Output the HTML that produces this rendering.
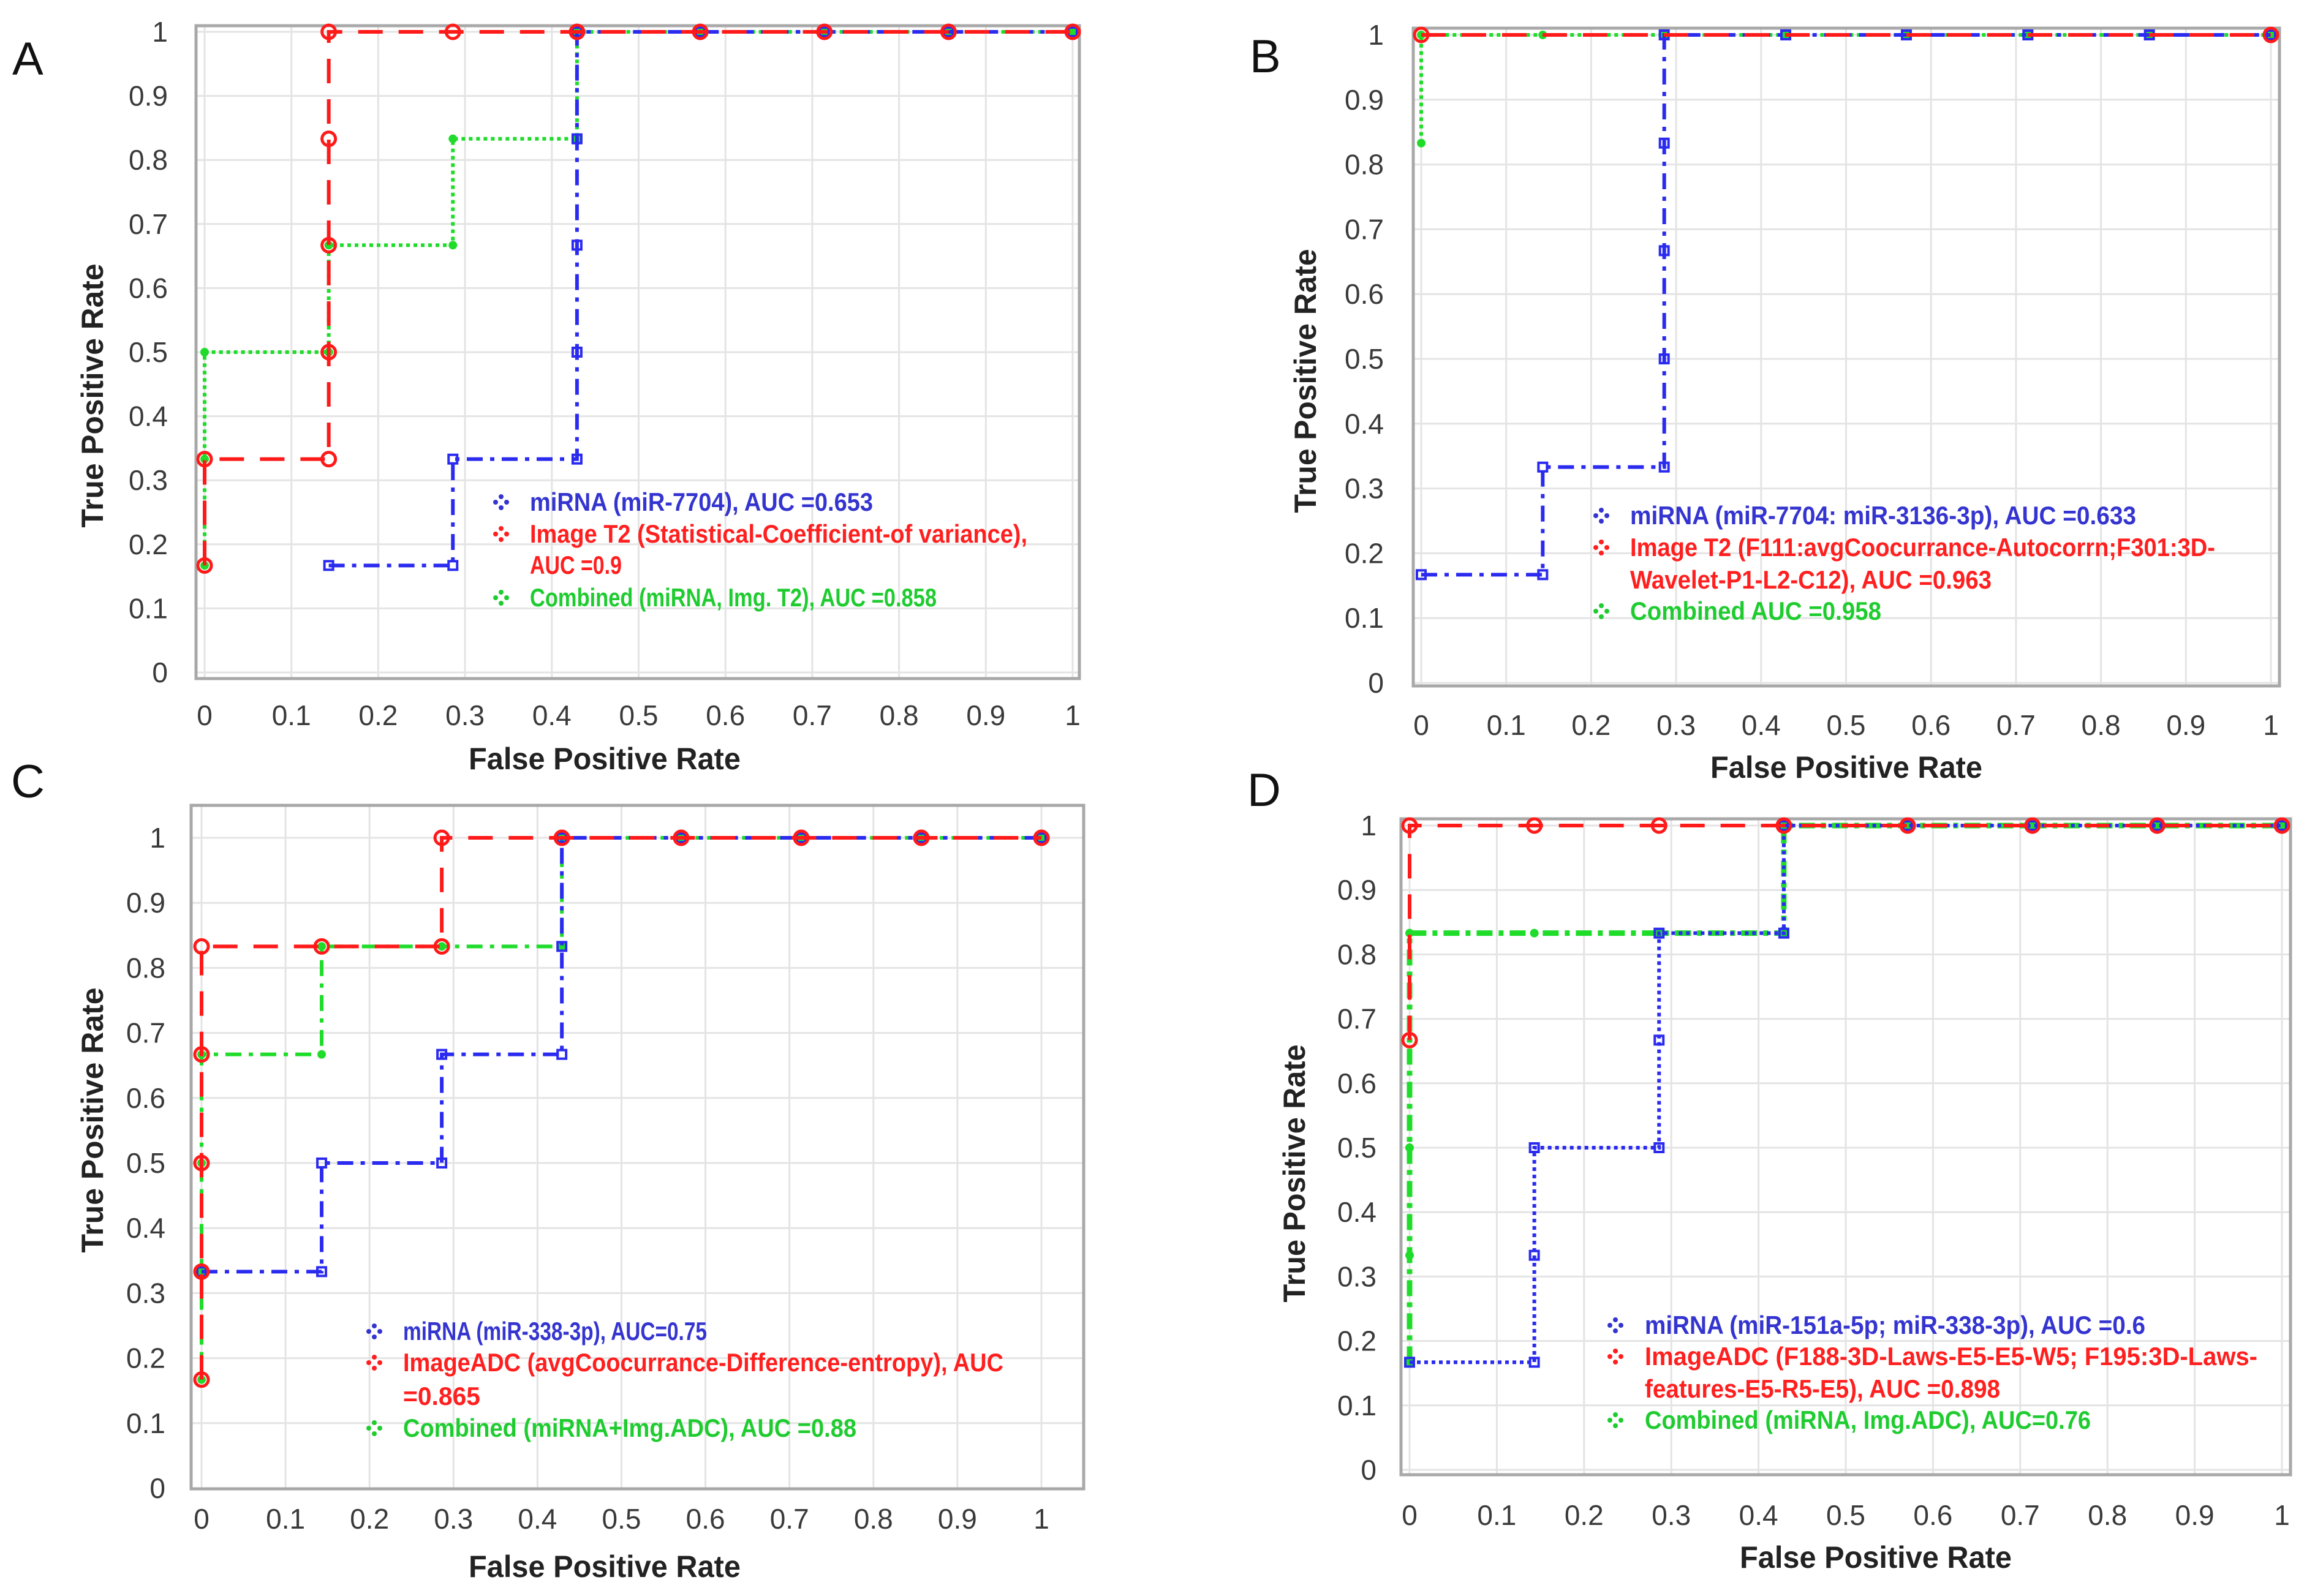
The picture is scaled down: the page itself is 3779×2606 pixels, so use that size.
<!DOCTYPE html>
<html><head><meta charset="utf-8">
<style>
html,body{margin:0;padding:0;background:#fff;}
svg{display:block;}
</style></head>
<body>
<svg id="fig" width="3779" height="2606" viewBox="0 0 3779 2606" xmlns="http://www.w3.org/2000/svg" font-family="Liberation Sans, sans-serif"></svg>
<script>
// ---- data (FPR / TPR step points) ----
const tickLabels = ["0","0.1","0.2","0.3","0.4","0.5","0.6","0.7","0.8","0.9","1"];
const tickValues = [0,0.1,0.2,0.3,0.4,0.5,0.6,0.7,0.8,0.9,1];

const aBlueX = [0.143,0.286,0.286,0.429,0.429,0.429,0.429,0.429,0.571,0.714,0.857,1];
const aBlueY = [0.167,0.167,0.333,0.333,0.5,0.667,0.833,1,1,1,1,1];
const aRedX  = [0,0,0.143,0.143,0.143,0.143,0.143,0.286,0.429,0.571,0.714,0.857,1];
const aRedY  = [0.167,0.333,0.333,0.5,0.667,0.833,1,1,1,1,1,1,1];
const aGreenX= [0,0,0,0.143,0.143,0.286,0.286,0.429,0.429,0.571,0.714,0.857,1];
const aGreenY= [0.167,0.333,0.5,0.5,0.667,0.667,0.833,0.833,1,1,1,1,1];

const bBlueX = [0,0.143,0.143,0.286,0.286,0.286,0.286,0.286,0.429,0.571,0.714,0.857,1];
const bBlueY = [0.167,0.167,0.333,0.333,0.5,0.667,0.833,1,1,1,1,1,1];
const bRedX  = [0,1];
const bRedY  = [1,1];
const bGreenX= [0,0,0.143,0.286,0.429,0.571,0.714,0.857,1];
const bGreenY= [0.833,1,1,1,1,1,1,1,1];

const cBlueX = [0,0.143,0.143,0.286,0.286,0.429,0.429,0.429,0.571,0.714,0.857,1];
const cBlueY = [0.333,0.333,0.5,0.5,0.667,0.667,0.833,1,1,1,1,1];
const cRedX  = [0,0,0,0,0,0.143,0.286,0.286,0.429,0.571,0.714,0.857,1];
const cRedY  = [0.167,0.333,0.5,0.667,0.833,0.833,0.833,1,1,1,1,1,1];
const cGreenX= [0,0,0,0,0.143,0.143,0.286,0.429,0.429,0.571,0.714,0.857,1];
const cGreenY= [0.167,0.333,0.5,0.667,0.667,0.833,0.833,0.833,1,1,1,1,1];

const dBlueX = [0,0.143,0.143,0.143,0.286,0.286,0.286,0.429,0.429,0.571,0.714,0.857,1];
const dBlueY = [0.167,0.167,0.333,0.5,0.5,0.667,0.833,0.833,1,1,1,1,1];
const dRedX  = [0,0,0.143,0.286,0.429,0.571,0.714,0.857,1];
const dRedY  = [0.667,1,1,1,1,1,1,1,1];
const dGreenX= [0,0,0,0,0.143,0.286,0.429,0.429,0.571,0.714,0.857,1];
const dGreenY= [0.167,0.333,0.5,0.833,0.833,0.833,0.833,1,1,1,1,1];

const legendA = ["miRNA (miR-7704), AUC =0.653","Image T2 (Statistical-Coefficient-of variance),","AUC =0.9","Combined (miRNA, Img. T2), AUC =0.858"];
const legendB = ["miRNA (miR-7704: miR-3136-3p), AUC =0.633","Image T2 (F111:avgCoocurrance-Autocorrn;F301:3D-","Wavelet-P1-L2-C12), AUC =0.963","Combined AUC =0.958"];
const legendC = ["miRNA (miR-338-3p), AUC=0.75","ImageADC (avgCoocurrance-Difference-entropy), AUC","=0.865","Combined (miRNA+Img.ADC), AUC =0.88"];
const legendD = ["miRNA (miR-151a-5p; miR-338-3p), AUC =0.6","ImageADC (F188-3D-Laws-E5-E5-W5; F195:3D-Laws-","features-E5-R5-E5), AUC =0.898","Combined (miRNA, Img.ADC), AUC=0.76"];

// ---- layout ----
const NS="http://www.w3.org/2000/svg";
const svg=document.getElementById('fig');
function mk(tag,attrs,parent){const e=document.createElementNS(NS,tag);for(const k in attrs)e.setAttribute(k,attrs[k]);(parent||svg).appendChild(e);return e;}

const BLUE="#2b2bf0",RED="#ff1a1a",GREEN="#1fdc2a";
const TBLUE="#3434d0",TRED="#ff1f1f",TGREEN="#1fcc30";

const panels=[
 {id:'a',letter:'A',lx:20,ly:122,fl:320,fr:1762,ft:42,fb:1108,x0:334,x1:1751,y0:1098,y1:52,ylabR:274,xlabY:1184,xtitleX:987,xtitleY:1256,ytitleX:150,ytitleY:646,ytLen:431,
  blue:[aBlueX,aBlueY,'dashdot'],red:[aRedX,aRedY],green:[aGreenX,aGreenY,'dot'],
  leg:legendA,legX:818,legText:865,legY:[834,886,937,990],legW:[560,812,150,664]},
 {id:'b',letter:'B',lx:2040,ly:118,fl:2307,fr:3721,ft:46,fb:1120,x0:2320,x1:3707,y0:1115,y1:57,ylabR:2259,xlabY:1200,xtitleX:3014,xtitleY:1270,ytitleX:2130,ytitleY:622,ytLen:431,
  blue:[bBlueX,bBlueY,'dashdot'],red:[bRedX,bRedY],green:[bGreenX,bGreenY,'dot'],
  leg:legendB,legX:2614,legText:2661,legY:[856,908,961,1012],legW:[826,955,590,410]},
 {id:'c',letter:'C',lx:18,ly:1302,fl:312,fr:1769,ft:1315,fb:2431,x0:329,x1:1700,y0:2430,y1:1368,ylabR:270,xlabY:2496,xtitleX:987,xtitleY:2575,ytitleX:150,ytitleY:1829,ytLen:433,
  blue:[cBlueX,cBlueY,'dashdot'],red:[cRedX,cRedY],green:[cGreenX,cGreenY,'dashdot'],
  leg:legendC,legX:611,legText:658,legY:[2188,2239,2294,2346],legW:[496,980,126,740]},
 {id:'d',letter:'D',lx:2036,ly:1316,fl:2287,fr:3739,ft:1337,fb:2408,x0:2301,x1:3725,y0:2400,y1:1348,ylabR:2247,xlabY:2490,xtitleX:3062,xtitleY:2560,ytitleX:2112,ytitleY:1916,ytLen:421,
  blue:[dBlueX,dBlueY,'dot'],red:[dRedX,dRedY],green:[dGreenX,dGreenY,'dashdotthick'],
  leg:legendD,legX:2637,legText:2685,legY:[2178,2229,2282,2333],legW:[817,1000,580,728]}
];

function dashFor(style){
  if(style==='dashdot') return {da:"26 12 7 12",w:6};
  if(style==='dot') return {da:"6 6",w:6};
  if(style==='dashdotthick') return {da:"26 10 8 10",w:9};
  return {da:"40 26",w:6};
}

panels.forEach(p=>{
  const g=mk('g',{});
  
  
  const sx=v=>p.x0+(p.x1-p.x0)*v;
  const sy=v=>p.y0+(p.y1-p.y0)*v;

  const L=mk('text',{x:p.lx,y:p.ly,'font-size':76,fill:'#111'},g);
  
  
  L.textContent=p.letter;

  // grid
  const grid=mk('g',{},g);
  
  
  tickValues.forEach(v=>{
    mk('line',{x1:sx(v),x2:sx(v),y1:p.ft,y2:p.fb,stroke:'#e4e4e4','stroke-width':3},grid);
    mk('line',{x1:p.fl,x2:p.fr,y1:sy(v),y2:sy(v),stroke:'#e4e4e4','stroke-width':3},grid);
  });
  const fr=mk('rect',{x:p.fl,y:p.ft,width:p.fr-p.fl,height:p.fb-p.ft,fill:'none',stroke:'#a8a8a8','stroke-width':5},g);
  
  

  // tick labels
  tickValues.forEach((v,i)=>{
    const t=mk('text',{x:p.ylabR,y:sy(v)+16,'font-size':46,'text-anchor':'end',fill:'#3a3a3a'},g);
    
    
    t.textContent=tickLabels[i];
    const u=mk('text',{x:sx(v),y:p.xlabY,'font-size':46,'text-anchor':'middle',fill:'#3a3a3a'},g);
    
    
    u.textContent=tickLabels[i];
  });
  const xt=mk('text',{x:p.xtitleX,y:p.xtitleY,'font-size':50,'font-weight':'bold','text-anchor':'middle',fill:'#222',textLength:444,lengthAdjust:'spacingAndGlyphs'},g);
  
  
  xt.textContent='False Positive Rate';
  const yt=mk('text',{x:0,y:0,'font-size':50,'font-weight':'bold','text-anchor':'middle',fill:'#222',textLength:p.ytLen,lengthAdjust:'spacingAndGlyphs',transform:`translate(${p.ytitleX+18},${p.ytitleY}) rotate(-90)`},g);
  
  
  yt.textContent='True Positive Rate';

  // series
  function series(arr,color,style,name,marker){
    const [xs,ys]=arr;
    const sg=mk('g',{},g);
    
    
    const d=dashFor(style);
    const pts=xs.map((x,i)=>sx(x)+','+sy(ys[i])).join(' ');
    mk('polyline',{points:pts,fill:'none',stroke:color,'stroke-width':d.w,'stroke-dasharray':d.da},sg);
    xs.forEach((x,i)=>{
      let m;
      if(marker==='sq') m=mk('rect',{x:sx(x)-7,y:sy(ys[i])-7,width:14,height:14,fill:'none',stroke:color,'stroke-width':4},sg);
      else m=mk('circle',{cx:sx(x),cy:sy(ys[i]),r:marker==='big'?11:6,fill:marker==='big'?'none':color,stroke:color,'stroke-width':marker==='big'?5:2},sg);
      
      
    });
  }
  series(p.green,GREEN,p.green[2],'series-combined-'+p.id,'small');
  series(p.blue,BLUE,p.blue[2],'series-mirna-'+p.id,'sq');
  series(p.red,RED,'dash','series-image-'+p.id,'big');

  // legend
  const lg=mk('g',{},g);
  
  
  const cols=[TBLUE,TRED,TRED,TGREEN];
  const markers=[true,true,false,true];
  p.leg.forEach((s,i)=>{
    const y=p.legY[i];
    if(markers[i]){
      const mg=mk('g',{},lg);
      
      
      [[0,-9],[0,9],[-9,0],[9,0]].forEach(o=>mk('circle',{cx:p.legX+o[0],cy:y-14+o[1],r:4,fill:cols[i]},mg));
    }
    const t=mk('text',{x:p.legText,y:y,'font-size':42,'font-weight':'bold',fill:cols[i],textLength:p.legW[i],lengthAdjust:'spacingAndGlyphs'},lg);
    
    
    t.textContent=s;
  });
});
</script>
</body></html>
